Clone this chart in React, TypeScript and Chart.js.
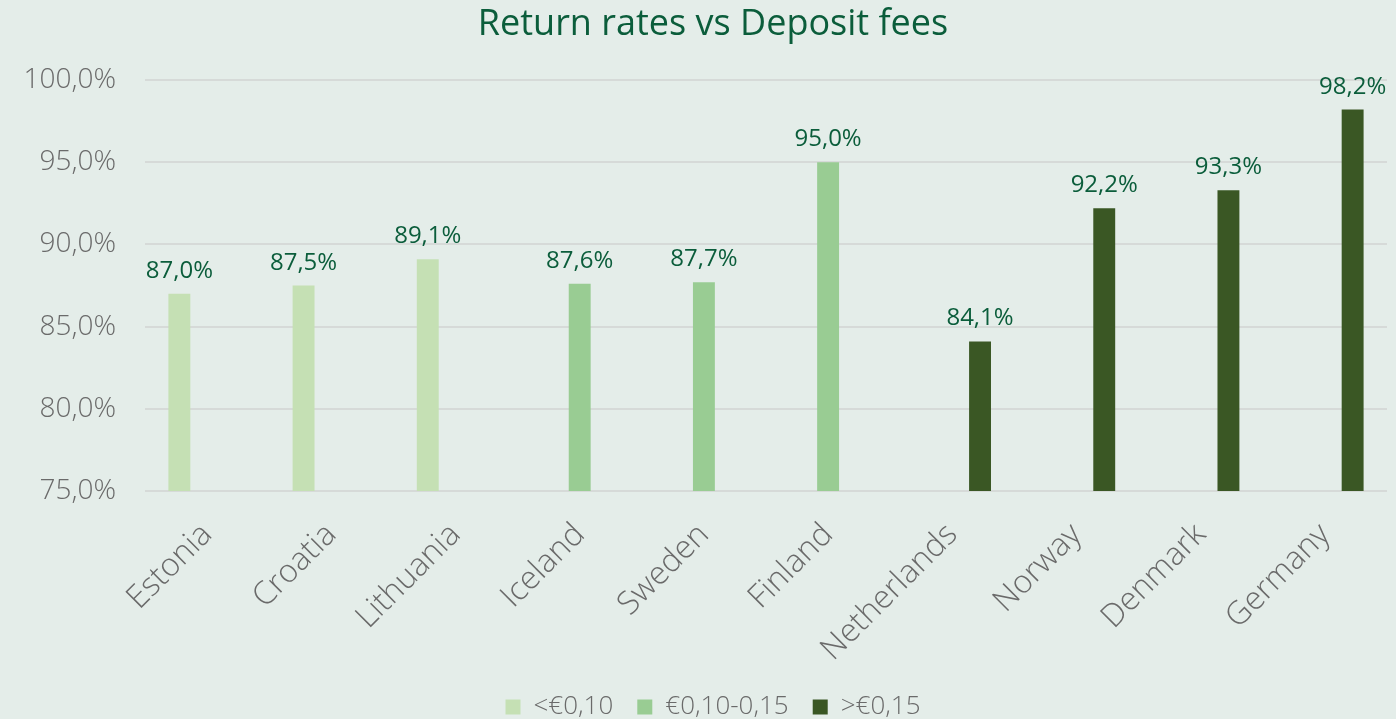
import React, { useEffect, useRef } from "react";
import { Chart, registerables } from "chart.js";

Chart.register(...registerables);

const categories = ["Estonia", "Croatia", "Lithuania", "Iceland", "Sweden", "Finland", "Netherlands", "Norway", "Denmark", "Germany"];
const lowFee = [87.0, 87.5, 89.1, null, null, null, null, null, null, null];
const midFee = [null, null, null, 87.6, 87.7, 95.0, null, null, null, null];
const highFee = [null, null, null, null, null, null, 84.1, 92.2, 93.3, 98.2];
const seriesNames = ["<€0,10", "€0,10-0,15", ">€0,15"];
const yMin = 75;
const yMax = 100;
const yStep = 5;

const BG = "#e4ede9";
const GREEN_TEXT = "#0b5d3b";
const GRAY = "#6a6a6a";
const FONT = "'Open Sans', 'DejaVu Sans', sans-serif";

const fmt = (v: number) => v.toFixed(1).replace(".", ",") + "%";

const dataLabelPlugin = {
  id: "dataLabels",
  afterDatasetsDraw(chart: any) {
    const ctx = chart.ctx;
    ctx.save();
    ctx.font = `400 24px ${FONT}`;
    ctx.fillStyle = GREEN_TEXT;
    ctx.textAlign = "center";
    ctx.textBaseline = "alphabetic";
    chart.data.datasets.forEach((ds: any, di: number) => {
      const meta = chart.getDatasetMeta(di);
      meta.data.forEach((el: any, i: number) => {
        const v = ds.data[i];
        if (v === null || v === undefined) return;
        ctx.fillText(fmt(v), el.x, el.y - 16);
      });
    });
    ctx.restore();
  },
};

export default function App() {
  const ref = useRef<HTMLCanvasElement | null>(null);
  useEffect(() => {
    document.body.style.margin = "0";
    const canvas = ref.current!;
    const chart = new Chart(canvas, {
      type: "bar",
      data: {
        labels: categories,
        datasets: [
          { label: seriesNames[0], data: lowFee, backgroundColor: "#c5e0b4" },
          { label: seriesNames[1], data: midFee, backgroundColor: "#99cc93" },
          { label: seriesNames[2], data: highFee, backgroundColor: "#3a5724" },
        ],
      },
      options: {
        responsive: false,
        animation: false,
        devicePixelRatio: 1,
        layout: { padding: { left: 0, right: -30, top: 0, bottom: -11 } },
        datasets: { bar: { categoryPercentage: 0.67, barPercentage: 0.79 } } as any,
        plugins: {
          title: {
            display: true,
            text: "Return rates vs Deposit fees",
            color: GREEN_TEXT,
            font: { family: FONT, size: 36, weight: "400" as any },
            padding: { top: 3, bottom: 33.8 },
          },
          legend: {
            position: "bottom",
            labels: {
              boxWidth: 15,
              boxHeight: 15,
              color: GRAY,
              font: { family: FONT, size: 26, weight: "300" as any },
              padding: 24,
            },
          },
          tooltip: { enabled: false },
        },
        scales: {
          x: {
            grid: { display: false },
            border: { display: false },
            ticks: {
              color: GRAY,
              font: { family: FONT, size: 32, weight: "300" as any },
              minRotation: 45,
              maxRotation: 45,
              padding: 17,
            },
            afterFit: (s: any) => {
              s.height = 179;
            },
          },
          y: {
            min: yMin,
            max: yMax,
            border: { display: false },
            grid: { color: "#d6dad8", lineWidth: 2, drawTicks: false },
            ticks: {
              stepSize: yStep,
              color: GRAY,
              padding: 29,
              font: { family: FONT, size: 28, weight: "300" as any },
              callback: (v: any) => fmt(Number(v)),
            },
            afterFit: (s: any) => {
              s.width = 145;
            },
          },
          spacer: {
            type: "linear",
            position: "right",
            display: true,
            grid: { display: false },
            border: { display: false },
            ticks: { display: false },
            afterFit: (s: any) => {
              s.width = 39;
            },
          },
        } as any,
      },
      plugins: [dataLabelPlugin],
    });
    return () => chart.destroy();
  }, []);
  return (
    <div style={{ width: 1396, height: 719, background: BG }}>
      <canvas ref={ref} width={1396} height={719} style={{ display: "block" }} />
    </div>
  );
}
